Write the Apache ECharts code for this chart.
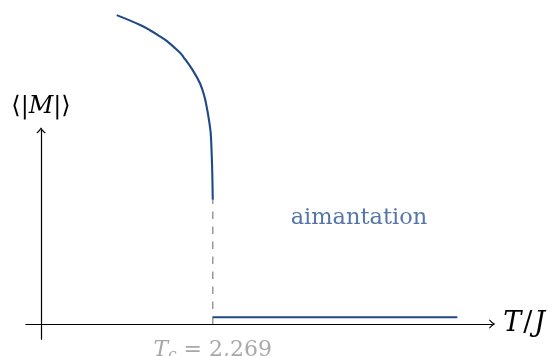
<!DOCTYPE html>
<html>
<head>
<meta charset="utf-8">
<script src="https://cdn.jsdelivr.net/npm/echarts@6/dist/echarts.min.js"></script>
<style>
  html, body { margin: 0; padding: 0; background: #ffffff; }
  #chart { width: 553px; height: 356px; }
</style>
</head>
<body>
<div id="chart"></div>
<script>
// Critical temperature of the 2D Ising model (in units of J)
const TC = 2.269;

// Spontaneous magnetisation below Tc
const T_low = [1.00, 1.31, 1.44, 1.57, 1.66, 1.83, 1.88, 2.00, 2.10, 2.16, 2.19, 2.21, 2.24, 2.252, 2.260, 2.265, 2.269];
const M_low = [4.08, 3.95, 3.88, 3.80, 3.74, 3.59, 3.53, 3.36, 3.18, 3.00, 2.86, 2.75, 2.54, 2.32, 2.09, 1.87, 1.64];

// Zero magnetisation above Tc
const T_high = [TC, 5.5];
const M_high = [0.09, 0.09];

// Axis extents
const X_RANGE = [-0.2, 6.0];
const Y_RANGE = [-0.2, 2.6];

const BLUE = '#1f4a87';
const GREY = '#9a9a9a';
const SERIF = "'DejaVu Serif', 'Liberation Serif', serif";

// Layout: one unit on both axes spans the same number of pixels
const UNIT = 75.7;
const H = 356;
const ORIGIN_X = 41, ORIGIN_Y = 324;
const ARROW_LEN = 6;

const gridLeft = ORIGIN_X + X_RANGE[0] * UNIT;
const xEndPx = ORIGIN_X + X_RANGE[1] * UNIT - ARROW_LEN / 2;
const xMax = X_RANGE[0] + (xEndPx - gridLeft) / UNIT;
const yMax = ORIGIN_Y / UNIT;
const yMin = -(H - ORIGIN_Y) / UNIT;

const yTopPx = ORIGIN_Y - Y_RANGE[1] * UNIT + ARROW_LEN / 2;
const yBotPx = ORIGIN_Y - Y_RANGE[0] * UNIT;

// open arrow head, pointing up in symbol space
const ARROW = 'path://M0,6 Q3.2,3.2 5,0 Q6.8,3.2 10,6 L8.6,6.3 Q6.2,4.2 5,2.2 Q3.8,4.2 1.4,6.3 Z';

const zip = (a, b) => a.map((v, i) => [v, b[i]]);
const lastM = M_low[M_low.length - 1];

const chart = echarts.init(document.getElementById('chart'), null, { renderer: 'canvas' });

chart.setOption({
  animation: false,
  backgroundColor: '#ffffff',
  grid: [
    { left: gridLeft, top: 0, width: xEndPx - gridLeft, height: H },
    { left: ORIGIN_X, top: yTopPx, width: 10, height: yBotPx - yTopPx }
  ],
  xAxis: [
    {
      gridIndex: 0, type: 'value', min: X_RANGE[0], max: xMax,
      axisLine: {
        show: true, onZero: true,
        symbol: ['none', ARROW], symbolSize: [10, ARROW_LEN],
        lineStyle: { color: '#000', width: 1.2 }
      },
      axisTick: { show: false }, axisLabel: { show: false }, splitLine: { show: false },
      name: '{i|T}{n|/}{i|J}', nameLocation: 'end', nameGap: 11,
      nameTextStyle: {
        align: 'left', verticalAlign: 'middle',
        rich: {
          i: { fontFamily: SERIF, fontStyle: 'italic', fontSize: 27, color: '#000' },
          n: { fontFamily: SERIF, fontSize: 27, color: '#000', padding: [0, 2, 0, 2] }
        }
      }
    },
    { gridIndex: 1, type: 'value', show: false, min: 0, max: 1 }
  ],
  yAxis: [
    { gridIndex: 0, type: 'value', show: false, min: yMin, max: yMax },
    {
      gridIndex: 1, type: 'value', min: Y_RANGE[0], max: Y_RANGE[1] - ARROW_LEN / 2 / UNIT,
      position: 'left',
      axisLine: {
        show: true, onZero: false,
        symbol: ['none', ARROW], symbolSize: [10, ARROW_LEN],
        lineStyle: { color: '#000', width: 1.2 }
      },
      axisTick: { show: false }, axisLabel: { show: false }, splitLine: { show: false },
      name: '{n|⟨|}{i|M}{n||⟩}', nameLocation: 'end', nameGap: 11,
      nameTextStyle: {
        align: 'center', verticalAlign: 'bottom',
        rich: {
          i: { fontFamily: SERIF, fontStyle: 'italic', fontSize: 24, color: '#000' },
          n: { fontFamily: SERIF, fontSize: 24, color: '#000' }
        }
      }
    }
  ],
  series: [
    {
      // dashed marker at Tc
      type: 'line', xAxisIndex: 0, yAxisIndex: 0,
      data: [[TC, 0], [TC, lastM]],
      showSymbol: false, silent: true,
      lineStyle: { color: GREY, width: 1.5, type: [7.5, 7.5] },
      z: 1
    },
    {
      type: 'line', xAxisIndex: 0, yAxisIndex: 0,
      data: zip(T_low, M_low),
      smooth: 0.4,
      showSymbol: false, silent: true,
      lineStyle: { color: BLUE, width: 2.1 },
      z: 3
    },
    {
      type: 'line', xAxisIndex: 0, yAxisIndex: 0,
      data: zip(T_high, M_high),
      showSymbol: false, silent: true,
      lineStyle: { color: BLUE, width: 2.1 },
      z: 3
    },
    {
      // Tc annotation under the axis
      type: 'scatter', xAxisIndex: 0, yAxisIndex: 0,
      data: [[TC, 0]], symbolSize: 0, silent: true,
      label: {
        show: true, position: 'bottom', distance: 13,
        formatter: () => '{i|T}{s|c}{n| = ' + String(TC).replace('.', ',') + '}',
        rich: {
          i: { fontFamily: SERIF, fontStyle: 'italic', fontSize: 22, color: '#929292', lineHeight: 26 },
          s: { fontFamily: SERIF, fontStyle: 'italic', fontSize: 15, color: '#929292', lineHeight: 12, verticalAlign: 'bottom' },
          n: { fontFamily: SERIF, fontSize: 22, color: '#929292', lineHeight: 26 }
        }
      }
    },
    {
      type: 'scatter', xAxisIndex: 0, yAxisIndex: 0,
      data: [[4.2, 1.4]], symbolSize: 0, silent: true,
      label: {
        show: true, position: 'inside',
        formatter: 'aimantation',
        fontFamily: SERIF, fontSize: 22.5, color: '#2b5592'
      }
    }
  ]
});
</script>
</body>
</html>
